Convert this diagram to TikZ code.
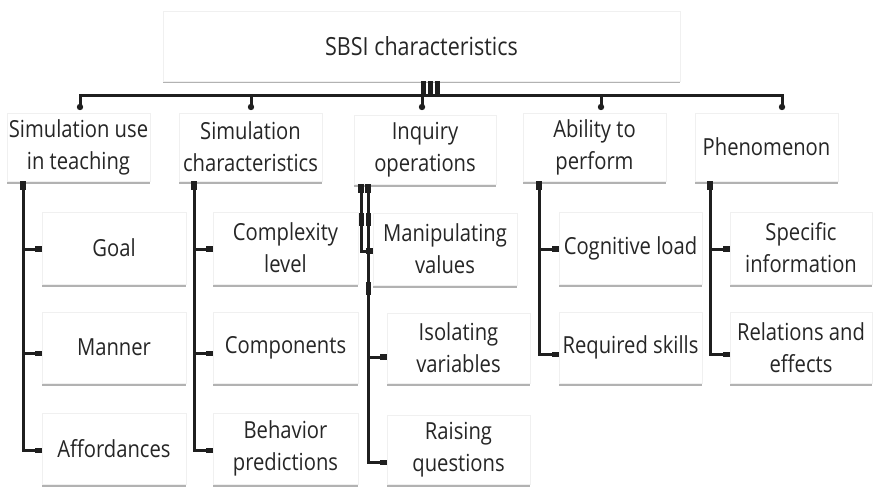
\documentclass[tikz,border=0pt]{standalone}
\usepackage{fontspec}
\setmainfont{Open Sans}[FakeStretch=0.86]
\usetikzlibrary{calc,shadows}
\newcommand{\lvfont}{\fontsize{23.5}{32}\selectfont}
\newcommand{\topfont}{\fontsize{25}{32}\selectfont}
\begin{document}
\begin{tikzpicture}[x=1pt,y=-1pt,
  box/.style={draw=black!6, line width=0.4pt, fill=white, inner sep=0pt, outer sep=0pt,
    align=center, font=\lvfont, text=black!85, anchor=north west,
    drop shadow={shadow xshift=0pt, shadow yshift=-2.5pt, fill=black, opacity=0.3}},
  conn/.style={line width=3pt, draw=black!88, line join=miter},
  capf/.style={fill=black!88}]
\fill[white] (0,0) rectangle (874,489);
\useasboundingbox (0,0) rectangle (874,489);
% top
\node[box, font=\topfont, minimum width=517pt, minimum height=70pt] (T) at (163,11) {SBSI characteristics};
% level 1
\node[box, minimum width=143pt, minimum height=68pt] (A) at (7,113) {Simulation use\\in teaching};
\node[box, minimum width=143pt, minimum height=68pt] (B) at (179,113) {Simulation\\characteristics};
\node[box, minimum width=142pt, minimum height=69pt] (C) at (354,115) {Inquiry\\operations};
\node[box, minimum width=143pt, minimum height=68pt] (D) at (523,113) {Ability to\\perform};
\node[box, minimum width=143pt, minimum height=68pt] (E) at (695,113) {Phenomenon};
% level 2
\node[box, minimum width=144pt, minimum height=72pt] (A1) at (42,212) {Goal};
\node[box, minimum width=144pt, minimum height=71pt] (A2) at (42,312) {Manner};
\node[box, minimum width=144pt, minimum height=71pt] (A3) at (42,413) {Affordances};
\node[box, minimum width=145pt, minimum height=72pt] (B1) at (213,212) {Complexity\\level};
\node[box, minimum width=145pt, minimum height=71pt] (B2) at (213,312) {Components};
\node[box, minimum width=145pt, minimum height=71pt] (B3) at (213,413) {Behavior\\predictions};
\node[box, minimum width=144pt, minimum height=72pt] (C1) at (373,213) {Manipulating\\values};
\node[box, minimum width=143pt, minimum height=70pt] (C2) at (387,313) {Isolating\\variables};
\node[box, minimum width=143pt, minimum height=69pt] (C3) at (387,415) {Raising\\questions};
\node[box, minimum width=143pt, minimum height=72pt] (D1) at (559,212) {Cognitive load};
\node[box, minimum width=143pt, minimum height=71pt] (D2) at (559,312) {Required skills};
\node[box, minimum width=142pt, minimum height=72pt] (E1) at (730,212) {Specific\\information};
\node[box, minimum width=142pt, minimum height=71pt] (E2) at (730,312) {Relations and\\effects};
% top connector bars
\fill[capf] ($(T.south)+(-0.5,0)$) rectangle ($(T.south)+(4.5,14)$);
\fill[capf] ($(T.south)+(6.5,0)$) rectangle ($(T.south)+(11.5,14)$);
\fill[capf] ($(T.south)+(13.5,0)$) rectangle ($(T.south)+(18.5,14)$);
% bus
\draw[conn] ($(A.north west)+(73,-6)$) -- ($(A.north west)+(73,-17)$) -- ($(E.north west)+(87,-17)$) -- ($(E.north west)+(87,-6)$);
\draw[conn] ($(B.north west)+(72,-17)$) -- ($(B.north west)+(72,-6)$);
\draw[conn] ($(C.north west)+(68,-19)$) -- ($(C.north west)+(68,-8)$);
\draw[conn] ($(D.north west)+(78,-17)$) -- ($(D.north west)+(78,-6)$);
\foreach \n/\dx/\dy in {A/73/-6, B/72/-6, C/68/-8, D/78/-6, E/87/-6}
  \fill[capf] ($(\n.north west)+(\dx,\dy)$) circle (3.2pt);
% trunks and branches
\newcommand{\bcap}[2]{\fill[capf] ($(#1.west)+(-7,#2-2.6)$) rectangle ($(#1.west)+(0,#2+2.6)$);}
\newcommand{\tcap}[2]{\fill[capf] ($(#1.south west)+(#2-3.2,0)$) rectangle ($(#1.south west)+(#2+3.2,9)$);}
% col A
\draw[conn] ($(A.south west)+(16,0)$) |- ($(A1.west)+(0,1)$);
\draw[conn] ($(A.south west)+(16,0)$) |- ($(A2.west)+(0,6)$);
\draw[conn] ($(A.south west)+(16,0)$) |- ($(A3.west)+(0,2)$);
\tcap{A}{16}
\bcap{A1}{1} \bcap{A2}{6} \bcap{A3}{2}
% col B
\draw[conn] ($(B.south west)+(15,0)$) |- ($(B1.west)+(0,1)$);
\draw[conn] ($(B.south west)+(15,0)$) |- ($(B2.west)+(0,6)$);
\draw[conn] ($(B.south west)+(15,0)$) |- ($(B3.west)+(0,2)$);
\tcap{B}{15}
\bcap{B1}{1} \bcap{B2}{6} \bcap{B3}{2}
% col C
\draw[conn] ($(C.south west)+(7,0)$) |- ($(C1.west)+(0,2)$);
\draw[conn] ($(C.south west)+(14,0)$) |- ($(C2.west)+(0,9)$);
\draw[conn] ($(C.south west)+(14,0)$) |- ($(C3.west)+(0,13)$);
\tcap{C}{7} \tcap{C}{14}
\fill[capf] ($(C.south west)+(4.5,29)$) rectangle ($(C.south west)+(9.5,42)$);
\fill[capf] ($(C.south west)+(11.5,29)$) rectangle ($(C.south west)+(16.5,42)$);
\fill[capf] ($(C.south west)+(11.5,98)$) rectangle ($(C.south west)+(16.5,111)$);
\bcap{C1}{2} \bcap{C2}{9} \bcap{C3}{13}
% col D
\draw[conn] ($(D.south west)+(16,0)$) |- ($(D1.west)+(0,1)$);
\draw[conn] ($(D.south west)+(16,0)$) |- ($(D2.west)+(0,7)$);
\tcap{D}{16}
\bcap{D1}{1} \bcap{D2}{7}
% col E
\draw[conn] ($(E.south west)+(15,0)$) |- ($(E1.west)+(0,1)$);
\draw[conn] ($(E.south west)+(15,0)$) |- ($(E2.west)+(0,7)$);
\tcap{E}{15}
\bcap{E1}{1} \bcap{E2}{7}
\end{tikzpicture}
\end{document}
